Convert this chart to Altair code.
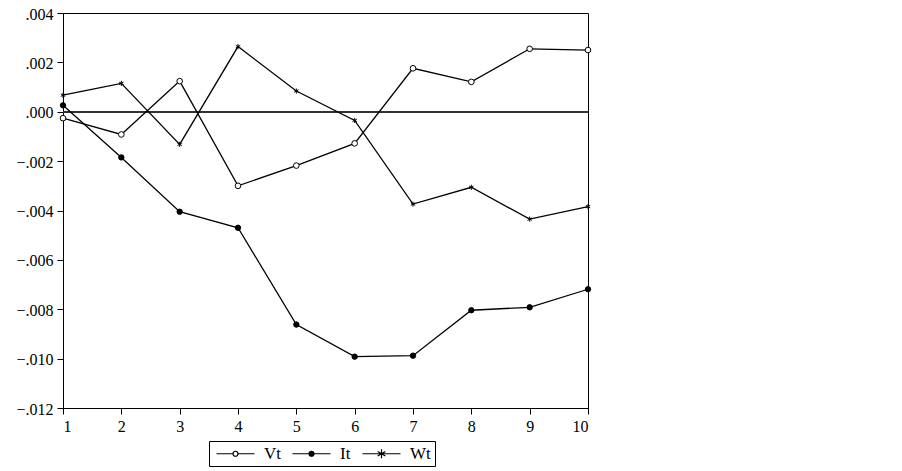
import altair as alt
import pandas as pd

periods = [1, 2, 3, 4, 5, 6, 7, 8, 9, 10]
vt = [-0.00026, -0.00092, 0.00124, -0.00300, -0.00218, -0.00128, 0.00176, 0.00121, 0.00255, 0.00250]
it = [0.00026, -0.00185, -0.00405, -0.00470, -0.00862, -0.00992, -0.00988, -0.00804, -0.00792, -0.00719]
wt = [0.00067, 0.00115, -0.00132, 0.00264, 0.00084, -0.00035, -0.00374, -0.00306, -0.00435, -0.00384]
series_names = ["Vt", "It", "Wt"]
y_ticks = [0.004, 0.002, 0.0, -0.002, -0.004, -0.006, -0.008, -0.010, -0.012]

rows = []
for name, vals in zip(series_names, [vt, it, wt]):
    for p, v in zip(periods, vals):
        rows.append({"period": p, "value": v, "series": name, "leg": name})
df = pd.DataFrame(rows)

FONT = "Liberation Serif"

x_enc = alt.X("period:Q", scale=alt.Scale(domain=[1, 10], nice=False, zero=False),
              axis=alt.Axis(values=periods, format="d", title=None, labelAngle=0,
                            tickSize=6, labelPadding=4, grid=False))
y_enc = alt.Y("value:Q", scale=alt.Scale(domain=[-0.012, 0.004], nice=False, zero=False),
              axis=alt.Axis(values=y_ticks, title=None, tickSize=6, labelPadding=4, grid=False,
                            labelOffset=1,
                            labelExpr="replace(format(datum.value, '.3f'), '0.', '.')"))

base = alt.Chart(df)

zero = base.mark_rule(color="#333333", strokeWidth=0.8).encode(y=alt.datum(0.0))

lines = base.mark_line(color="black", strokeWidth=1.3).encode(
    x=x_enc, y=y_enc, detail="series:N"
)

star = "M0,-1L0,1M-0.87,-0.5L0.87,0.5M-0.87,0.5L0.87,-0.5"
points = base.mark_point(opacity=1, strokeWidth=1, stroke="black").encode(
    x=x_enc, y=y_enc,
    shape=alt.Shape("series:N", scale=alt.Scale(domain=series_names, range=["circle", "circle", star]), legend=None),
    fill=alt.Fill("series:N", scale=alt.Scale(domain=series_names, range=["white", "black", "black"]), legend=None),
    size=alt.Size("series:N", scale=alt.Scale(domain=series_names, range=[32, 26, 110]), legend=None),
)

# legend symbols: unit = sqrt(100)/2 = 5 px, line spans -3.8..3.8 -> 38 px
leg_vt = "M-3.8,0L-0.5,0M0.5,0L3.8,0M0.5,0A0.5,0.5,0,1,1,-0.5,0A0.5,0.5,0,1,1,0.5,0Z"
leg_it = "M-3.8,0L3.8,0M0.5,0A0.5,0.5,0,1,1,-0.5,0A0.5,0.5,0,1,1,0.5,0Z"
leg_wt = "M-3.8,0L3.8,0M0,-0.9L0,0.9M-0.78,-0.45L0.78,0.45M-0.78,0.45L0.78,-0.45"

legend = alt.Legend(title=None, orient="none", legendX=146, legendY=428, direction="horizontal",
                    strokeColor="black", padding=4, symbolSize=100, symbolStrokeWidth=1.2,
                    symbolStrokeColor="black", labelFont=FONT, labelFontSize=17,
                    labelColor="black", columnPadding=8, labelOffset=20, symbolOffset=14,
                    cornerRadius=0,
                    labelExpr="datum.label == 'Wt' ? 'Wt\u00a0\u00a0\u00a0\u00a0' : datum.label")

legend_layer = base.transform_filter("false").mark_point(
    filled=True, strokeWidth=1.2, opacity=1
).encode(
    x=x_enc, y=y_enc,
    shape=alt.Shape("leg:N", scale=alt.Scale(domain=series_names, range=[leg_vt, leg_it, leg_wt]), legend=legend),
    fill=alt.Fill("leg:N", scale=alt.Scale(domain=series_names, range=["white", "black", "black"]), legend=legend),
    stroke=alt.Stroke("leg:N", scale=alt.Scale(domain=series_names, range=["black", "black", "black"]), legend=legend),
)

chart = alt.layer(zero, lines, points, legend_layer).resolve_scale(
    shape="independent", fill="independent", stroke="independent"
).properties(
    width=525, height=395,
    autosize=alt.AutoSizeParams(type="none"),
    padding={"left": 55, "top": 5, "right": 20, "bottom": 60},
).configure_view(stroke="black", strokeWidth=1).configure_axis(
    labelFont=FONT, labelFontSize=16, labelColor="black", domainColor="black",
    tickColor="black", domainWidth=1, tickWidth=1
)

chart.save("out.html", embed_options={"renderer": "svg", "actions": False})
